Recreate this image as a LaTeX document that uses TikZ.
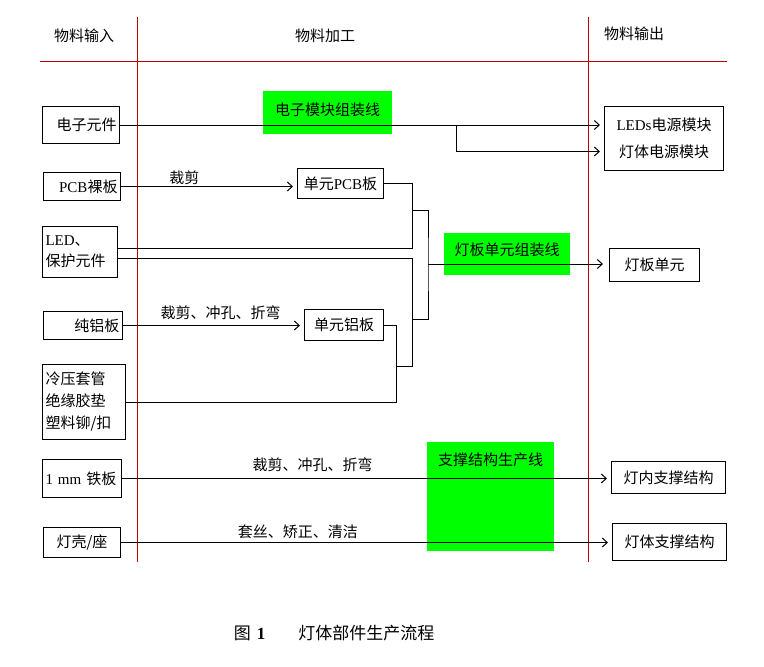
\documentclass[tikz,border=0pt]{standalone}
\usepackage{fontspec}
\setmainfont{Noto Sans CJK SC}
\newfontfamily\latinfont{Liberation Serif}
\usetikzlibrary{arrows.meta,positioning}
\definecolor{lanered}{HTML}{C00000}
\definecolor{stagegreen}{HTML}{00FF00}
\newcommand{\latw}[1]{{\latinfont #1}}

\begin{document}
\begin{tikzpicture}[x=1pt, y=-1pt, font=\fontsize{15}{18}\selectfont,
    lane/.style={draw=lanered, line width=1pt},
    flow/.style={line width=1pt},
    arr/.style={flow, -{Straight Barb[length=5pt,width=9pt]}, shorten >=4pt},
    box/.style={draw, line width=1pt, anchor=north west, inner xsep=3pt, inner ysep=0pt},
    stage/.style={fill=stagegreen, anchor=north west, inner sep=0pt},
    lbl/.style={above, inner sep=1pt}]

  % canvas
  \fill[white] (0,0) rectangle (764,667);

  % lanes
  \draw[lane] (40,61.5) -- (727,61.5);
  \draw[lane] (137.5,17) -- (137.5,562);
  \draw[lane] (588.5,17) -- (588.5,562);
  \node (hdIn) at (84,36) {物料输入};
  \node (hdProc) at (325,36) {物料加工};
  \node (hdOut) at (634,34) {物料输出};

  % production lines (green)
  \node[stage, minimum width=129pt, text height=24pt, text depth=19pt] (modLine) at (263,91) {电子模块组装线};
  \node[stage, minimum width=126pt, text height=22pt, text depth=20pt] (panelLine) at (444,233) {灯板单元组装线};
  \node[stage, minimum width=127pt, text height=23pt, text depth=86pt] (frameLine) at (427,442) {支撑结构生产线};

  % inputs
  \node[box, text width=71pt, minimum height=37pt, align=right] (eleIn) at (42,106) {电子元件};
  \node[box, text width=71pt, minimum height=28pt, align=right] (pcbIn) at (43,172) {\latw{PCB}裸板};
  \node[box, text width=69pt, minimum height=51pt, align=left] (ledIn) at (42,226) {\latw{LED}、\\[3pt]保护元件};
  \node[box, text width=73pt, minimum height=28pt, align=right] (alIn) at (43,311) {纯铝板};
  \node[box, text width=77pt, minimum height=75pt, align=left] (partsIn) at (42,364) {冷压套管\\[4pt]绝缘胶垫\\[4pt]塑料铆/扣};
  \node[box, text width=73pt, minimum height=38pt, align=left] (feIn) at (42,459) {\latw{1 mm} 铁板};
  \node[box, text width=71pt, minimum height=30pt, align=center] (shellIn) at (43,527) {灯壳/座};

  % intermediate parts
  \node[box, text width=80pt, minimum height=30pt, align=center] (pcbUnit) at (297,168) {单元\latw{PCB}板};
  \node[box, text width=73pt, minimum height=31pt, align=center] (alUnit) at (304,309) {单元铝板};

  % outputs
  \node[box, text width=113pt, minimum height=64pt, align=center] (psuOut) at (604,106) {\latw{LEDs}电源模块\\[9pt]灯体电源模块};
  \node[box, text width=84pt, minimum height=33pt, align=center] (panelOut) at (609,248) {灯板单元};
  \node[box, text width=108pt, minimum height=32pt, align=center] (innerOut) at (611,461) {灯内支撑结构};
  \node[box, text width=108pt, minimum height=37pt, align=center] (bodyOut) at (612,523) {灯体支撑结构};

  % junctions
  \coordinate (split) at (456,124.5);
  \coordinate (jA) at (412,210);
  \coordinate (jB) at (412,319);
  \coordinate (jC) at (396,366);
  \coordinate (bus) at (428,264);

  % electronic modules
  \draw[arr] (eleIn.east) -- (eleIn.east -| psuOut.west);
  \draw[arr] (split) |- ([yshift=-13pt]psuOut.west);

  % lamp panel
  \draw[arr] (pcbIn.east) -- node[lbl, pos=0.36] {裁剪} (pcbIn.east -| pcbUnit.west);
  \draw[arr] (alIn.east) -- node[lbl, pos=0.54, above=4pt] {裁剪、冲孔、折弯} (alIn.east -| alUnit.west);
  \draw[flow] (pcbUnit.east) -| (jA);
  \draw[flow] ([yshift=3.5pt]ledIn.east) -| (jA);
  \draw[flow] ([yshift=-6.5pt]ledIn.east) -| (jB);
  \draw[flow] (alUnit.east) -| (jC);
  \draw[flow] (partsIn.east) -| (jC);
  \draw[flow] (jC) -| (jB);
  \draw[flow] (jA) -| (bus) |- (jB);
  \draw[arr, shorten >=6pt] (bus) -- (bus -| panelOut.west);

  % support structures
  \draw[arr] (feIn.east) -- node[lbl, pos=0.39, above=5pt] {裁剪、冲孔、折弯} (feIn.east -| innerOut.west);
  \draw[arr] (shellIn.east) -- node[lbl, pos=0.36, above=2pt] {套丝、矫正、清洁} (shellIn.east -| bodyOut.west);

  % caption
  \node[font=\fontsize{17}{20}\selectfont] (caption) at (334,633) {图\hspace{6pt}\textbf{\latw{1}}\hspace{33pt}灯体部件生产流程};
\end{tikzpicture}
\end{document}
